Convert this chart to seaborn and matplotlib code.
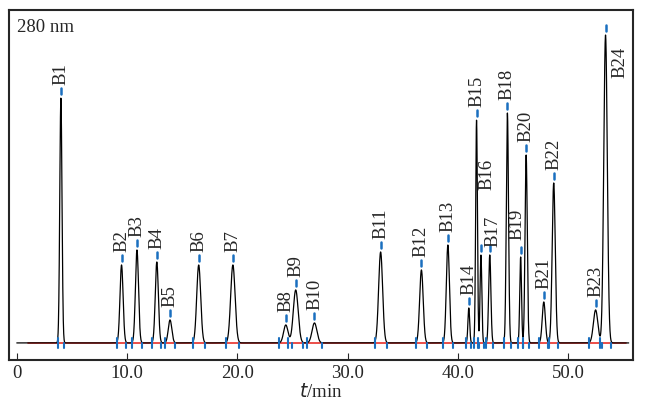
import numpy as np
import matplotlib
matplotlib.use('Agg')
import matplotlib.pyplot as plt
import seaborn as sns
import pandas as pd

# peak data
labels = ['B1', 'B2', 'B3', 'B4', 'B5', 'B6', 'B7', 'B8', 'B9', 'B10', 'B11', 'B12',
          'B13', 'B14', 'B15', 'B16', 'B17', 'B18', 'B19', 'B20', 'B21', 'B22', 'B23', 'B24']
rt = [4.0, 9.5, 10.9, 12.7, 13.9, 16.5, 19.6, 24.4, 25.3, 27.0, 33.0, 36.7,
      39.1, 41.0, 41.7, 42.1, 42.9, 44.5, 45.7, 46.2, 47.8, 48.7, 52.5, 53.4]
height = [245, 78, 93, 81, 23, 78, 78, 18, 53, 20, 91, 73,
          98, 35, 223, 88, 88, 230, 86, 188, 41, 160, 33, 308]
width = [0.10, 0.14, 0.14, 0.14, 0.16, 0.18, 0.2, 0.2, 0.22, 0.22, 0.18, 0.16,
         0.14, 0.08, 0.08, 0.08, 0.1, 0.1, 0.08, 0.1, 0.14, 0.14, 0.2, 0.16]
# label placement tweaks for crowded peaks: (dx in min, label bottom height)
label_pos = {'B16': (0.5, 153), 'B17': (0.3, 96), 'B19': (-0.3, 103), 'B24': (1.3, 265)}

t = np.linspace(0, 55.5, 6000)
sig = np.zeros_like(t)
for r, h, w in zip(rt, height, width):
    sig += h * np.exp(-0.5 * ((t - r) / w) ** 2)
df = pd.DataFrame({'t': t, 'signal': sig})

sns.set_style('ticks')
plt.rcParams['font.family'] = ['Liberation Serif', 'DejaVu Serif']
fig, ax = plt.subplots(figsize=(6.48, 4.19), dpi=100)
fig.subplots_adjust(left=0.014, right=0.977, top=0.976, bottom=0.141)

ax.plot([1, 55.3], [0, 0], color='#e8302a', lw=1.2, zorder=1)
sns.lineplot(data=df, x='t', y='signal', ax=ax, color='black', lw=0.9, zorder=2)

for lab, r, h, w in zip(labels, rt, height, width):
    ax.plot([r, r], [h + 4, h + 10], color='#1a6fbf', lw=1.8)
    dx, ly = label_pos.get(lab, (0, h + 13))
    ax.text(r + dx, ly, lab, rotation=90, ha='center', va='bottom', fontsize=13.5)
    ax.plot([r - 3 * w, r - 3 * w], [-5, 5], color='#1a6fbf', lw=1.5)
    ax.plot([r + 3 * w, r + 3 * w], [-5, 0], color='#1a6fbf', lw=1.5)

ax.text(0.012, 0.975, '280 nm', transform=ax.transAxes, ha='left', va='top', fontsize=13.5)
ax.set_xlim(-0.7, 55.9)
ax.set_ylim(-17, 333)
ax.set_yticks([])
ax.set_xticks([0, 10, 20, 30, 40, 50])
ax.set_xticklabels(['0', '10.0', '20.0', '30.0', '40.0', '50.0'], fontsize=13.5)
ax.set_xlabel('$t$/min', fontsize=13.5, labelpad=1)
ax.set_ylabel('')
ax.tick_params(axis='x', direction='in', length=5)
for s in ax.spines.values():
    s.set_linewidth(1.5)

fig.savefig('out.png', dpi=100)
